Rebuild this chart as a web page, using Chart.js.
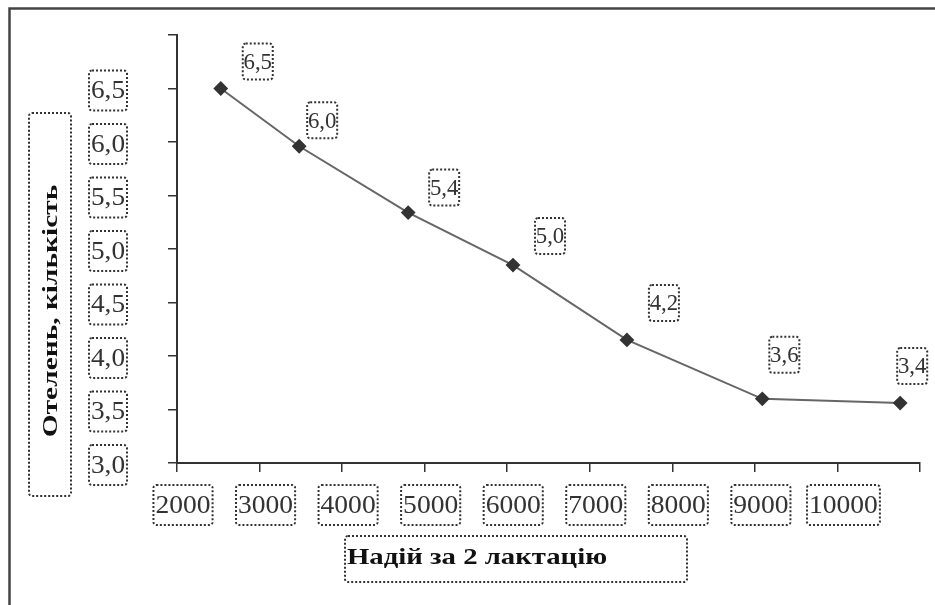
<!DOCTYPE html>
<html>
<head>
<meta charset="utf-8">
<script src="https://cdn.jsdelivr.net/npm/chart.js@4.4.0/dist/chart.umd.min.js"></script>
<style>
	body { margin: 0; background: #fff; }
	#wrap { width: 935px; height: 605px; }
</style>
</head>
<body>
<div id="wrap"><canvas id="chart" width="935" height="605"></canvas></div>
<script>
/* Chart Data */
let milkYield = [2530, 3480, 4800, 6070, 7450, 9090, 10760];
let calvings = [6.5, 5.96, 5.34, 4.85, 4.15, 3.6, 3.56];
let pointLabels = ['6,5', '6,0', '5,4', '5,0', '4,2', '3,6', '3,4'];
let xTickLabels = ['2000', '3000', '4000', '5000', '6000', '7000', '8000', '9000', '10000'];
let yTickLabels = ['3,0', '3,5', '4,0', '4,5', '5,0', '5,5', '6,0', '6,5'];
let xTitle = 'Надій за 2 лактацію';
let yTitle = 'Отелень, кількість';

/* where each value label sits from its point */
let labelShift = [[37, -27], [23, -26], [36, -25], [37, -29], [37, -37], [22, -44], [12, -37]];

function dottedBox(ctx, x, y, w, h) {
	ctx.save();
	ctx.strokeStyle = '#333';
	ctx.lineWidth = 2;
	ctx.setLineDash([2, 2]);
	ctx.beginPath();
	ctx.roundRect(x, y, w, h, 3);
	ctx.stroke();
	ctx.restore();
}

function boxedText(ctx, text, cx, cy, font, color, boxW, boxH, sx) {
	ctx.save();
	ctx.font = font;
	var w = boxW || ctx.measureText(text).width * (sx || 1) + 4;
	dottedBox(ctx, cx - w / 2, cy - boxH / 2, w, boxH);
	ctx.translate(cx, cy + 1);
	ctx.scale(sx || 1, 1);
	ctx.fillStyle = color;
	ctx.textAlign = 'center';
	ctx.textBaseline = 'middle';
	ctx.fillText(text, 0, 0);
	ctx.restore();
}

var decorPlugin = {
	id: 'decor',
	afterDraw: function(chart) {
		var ctx = chart.ctx;
		var xs = chart.scales.x;
		var ys = chart.scales.y;

		/* outer frame */
		ctx.save();
		ctx.strokeStyle = '#444';
		ctx.lineWidth = 2.5;
		ctx.strokeRect(9.5, 8.5, 1000, 1000);
		ctx.restore();

		/* tick labels */
		yTickLabels.forEach(function(t) {
			var v = parseFloat(t.replace(',', '.'));
			boxedText(ctx, t, 108, ys.getPixelForValue(v) + 2, '26px "Liberation Serif"', '#333', 38, 40, 1.05);
		});
		xTickLabels.forEach(function(t) {
			var v = parseFloat(t);
			boxedText(ctx, t, xs.getPixelForValue(v) + 6, 505, '26px "Liberation Serif"', '#333', null, 40, 1.06);
		});

		/* value labels */
		var meta = chart.getDatasetMeta(0);
		meta.data.forEach(function(pt, i) {
			var s = labelShift[i];
			boxedText(ctx, pointLabels[i], pt.x + s[0], pt.y + s[1], '24px "Liberation Serif"', '#333', 30, 36, 0.95);
		});

		/* axis titles */
		dottedBox(ctx, 345, 536, 342, 46);
		ctx.save();
		ctx.translate(347, 558);
		ctx.scale(1.25, 1);
		ctx.font = 'bold 23px "Liberation Serif"';
		ctx.fillStyle = '#111';
		ctx.textBaseline = 'middle';
		ctx.fillText(xTitle, 0, 0);
		ctx.restore();

		dottedBox(ctx, 29, 113, 42, 383);
		ctx.save();
		ctx.translate(52, 311);
		ctx.rotate(-Math.PI / 2);
		ctx.scale(1.4, 1);
		ctx.font = 'bold 21px "Liberation Serif"';
		ctx.fillStyle = '#111';
		ctx.textAlign = 'center';
		ctx.textBaseline = 'middle';
		ctx.fillText(yTitle, 0, 0);
		ctx.restore();
	}
};

var ctx = document.getElementById('chart');

new Chart(ctx, {
	type: 'scatter',
	data: {
		datasets: [{
			data: milkYield.map(function(x, i) { return { x: x, y: calvings[i] }; }),
			showLine: true,
			borderColor: '#666',
			borderWidth: 2,
			pointStyle: 'rectRot',
			pointRadius: 6,
			pointBackgroundColor: '#333',
			pointBorderColor: '#333',
			tension: 0
		}]
	},
	options: {
		responsive: false,
		animation: false,
		layout: { padding: { left: 0, top: 35, right: 15, bottom: 0 } },
		plugins: {
			legend: { display: false },
			tooltip: { enabled: false }
		},
		scales: {
			x: {
				type: 'linear',
				min: 2000,
				max: 11000,
				ticks: { stepSize: 1000, display: false },
				grid: { drawOnChartArea: false, drawTicks: true, tickLength: 9, color: '#333', lineWidth: 1.5 },
				border: { display: true, color: '#333', width: 2 },
				afterFit: function(scale) { scale.height = 142; }
			},
			y: {
				min: 3,
				max: 7,
				ticks: { stepSize: 0.5, display: false },
				grid: { drawOnChartArea: false, drawTicks: true, tickLength: 9, color: '#333', lineWidth: 1.5 },
				border: { display: true, color: '#333', width: 2 },
				afterFit: function(scale) { scale.width = 177; }
			}
		}
	},
	plugins: [decorPlugin]
});
</script>
</body>
</html>
